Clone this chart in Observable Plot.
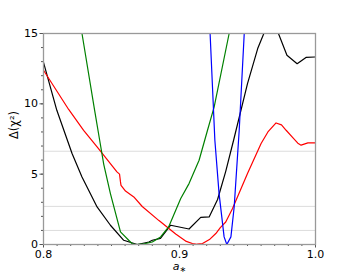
<!DOCTYPE html>
<html><head><meta charset="utf-8">
<script src="https://cdn.jsdelivr.net/npm/d3@7"></script>
<script src="https://cdn.jsdelivr.net/npm/@observablehq/plot@0.6"></script>
<style>body{margin:0;background:#fff} #c svg{font-family:"DejaVu Sans",sans-serif}</style>
</head><body><div id="c"></div>
<script>
// --- data ---
const blackX = [0.800,0.8098,0.821,0.8283,0.8394,0.8492,0.859,0.869,0.8775,0.880,0.886,0.8935,0.907,0.9156,0.9218,0.928,0.934,0.940,0.950,0.9575,0.9675,0.979,0.9865,0.993,1.000];
const blackY = [12.95,9.54,6.47,4.8,2.67,1.37,0.3,0.0,0.18,0.3,0.43,1.37,1.1,1.93,1.96,3.2,5.2,7.5,11.44,13.93,16.3,13.45,12.85,13.3,13.33];

const redX = [0.800,0.8185,0.8295,0.8394,0.854,0.8559,0.8566,0.857,0.8603,0.8664,0.8726,0.8849,0.8972,0.905,0.9095,0.913,0.9169,0.922,0.9267,0.930,0.934,0.939,0.950,0.960,0.965,0.971,0.975,0.9784,0.9833,0.987,0.9894,0.9944,1.000];
const redY = [12.39,9.6,8.12,6.94,5.16,5.0,4.45,4.2,3.8,3.38,2.7,1.7,0.75,0.22,0.07,0.02,0.07,0.35,0.78,1.2,1.6,2.56,5.05,7.18,8.0,8.64,8.5,8.12,7.6,7.2,7.06,7.22,7.22];

const greenX = [0.826,0.8283,0.8376,0.8413,0.8443,0.8492,0.8566,0.865,0.8677,0.874,0.880,0.8861,0.892,0.9009,0.907,0.9144,0.9206,0.9255,0.9365,0.938];
const greenY = [16.4,15,9.54,7.41,5.7,3.62,0.9,0.07,0.0,0.05,0.18,0.54,1.25,3.27,4.33,5.99,8.12,9.78,15,16];

const blueX = [0.9215,0.9225,0.926,0.9291,0.9328,0.9348,0.9378,0.9402,0.9439,0.9476,0.9485];
const blueY = [16,15,7.41,3.62,0.54,0.0,0.54,2.67,8.12,15,16.5];

const refLevels = [1, 2.71, 6.63];
const xMajor = [0.8, 0.9, 1.0];
const xMinor = d3.range(80, 101).map(d => d / 100);
const yMajor = [0, 5, 10, 15];
const yMinor = d3.range(0, 16);

const series = [
  {name: "black", color: "black", xs: blackX, ys: blackY},
  {name: "red", color: "red", xs: redX, ys: redY},
  {name: "green", color: "green", xs: greenX, ys: greenY},
  {name: "blue", color: "blue", xs: blueX, ys: blueY}
];
const rows = series.flatMap(s => s.xs.map((x, i) => ({s: s.name, c: s.color, x, y: s.ys[i]})));

const chart = Plot.plot({
  width: 350, height: 275,
  marginLeft: 43, marginRight: 35, marginTop: 33, marginBottom: 31,
  style: {fontFamily: "DejaVu Sans", fontSize: "10px", background: "#fff", color: "black"},
  x: {domain: [0.8, 1.0]},
  y: {domain: [0, 15]},
  color: {type: "identity"},
  marks: [
    Plot.ruleY(refLevels, {stroke: "#dcdcdc", strokeWidth: 1}),
    Plot.line(rows, {x: "x", y: "y", z: "s", stroke: "c", strokeWidth: 1.2, clip: true}),
    Plot.axisX(xMinor, {tickSize: 2, tickFormat: () => "", stroke: "#555", label: null}),
    Plot.axisX(xMajor, {tickSize: 3.5, tickPadding: 2, tickFormat: d3.format(".1f"), stroke: "#555", label: null, fontSize: 11}),
    Plot.axisY(yMinor, {tickSize: 2, tickFormat: () => "", stroke: "#555", label: null}),
    Plot.axisY(yMajor, {tickSize: 3.5, tickPadding: 2, stroke: "#555", label: null, fontSize: 11}),
    Plot.frame({stroke: "#999", strokeWidth: 1.3}),
    Plot.text(["Δ(χ²)"], {frameAnchor: "left", dx: -29, rotate: -90, fontSize: 11.5}),
    Plot.text(["a"], {frameAnchor: "bottom", dy: 25, fontSize: 11, fontStyle: "italic", className: "xlab"})
  ]
});
document.getElementById("c").appendChild(chart);
// subscript asterisk on the x label
d3.select(chart).selectAll(".xlab text").each(function() {
  const t = d3.select(this);
  t.text("");
  t.append("tspan").text("a");
  t.append("tspan").attr("font-style", "normal").attr("font-size", 8).attr("dy", 2).text("∗");
});
</script>
</body></html>
